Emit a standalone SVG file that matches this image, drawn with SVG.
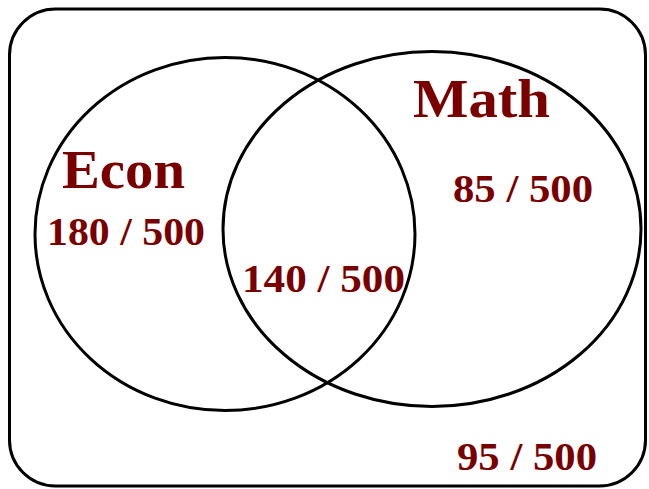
<svg xmlns="http://www.w3.org/2000/svg" width="649" height="489" viewBox="0 0 649 489">
<style>
.shape{fill:none;stroke:#000;stroke-width:3}
.lbl{font-family:"Liberation Serif","Times New Roman",serif;font-weight:bold;fill:#7a0000}
.big{font-size:54px}
.num{font-size:41px}
</style>
<rect x="0" y="0" width="649" height="489" fill="#fff"/>
<g id="universe"><rect class="shape" x="9.5" y="9" width="636" height="477" rx="46" ry="46"/><text class="lbl num" x="457" y="470" textLength="140" lengthAdjust="spacingAndGlyphs">95 / 500</text></g>
<g id="econ"><ellipse class="shape" cx="225" cy="234" rx="190" ry="176.5"/><text class="lbl big" x="62" y="188" textLength="123" lengthAdjust="spacingAndGlyphs">Econ</text><text class="lbl num" x="47" y="245" textLength="158" lengthAdjust="spacingAndGlyphs">180 / 500</text></g>
<g id="math"><ellipse class="shape" cx="432" cy="229" rx="209" ry="177.5"/><text class="lbl big" x="413" y="117" textLength="137" lengthAdjust="spacingAndGlyphs">Math</text><text class="lbl num" x="453" y="202" textLength="140" lengthAdjust="spacingAndGlyphs">85 / 500</text></g>
<g id="both"><text class="lbl num" x="242" y="292" textLength="163" lengthAdjust="spacingAndGlyphs">140 / 500</text></g>
<g id="connectors"></g>
</svg>
